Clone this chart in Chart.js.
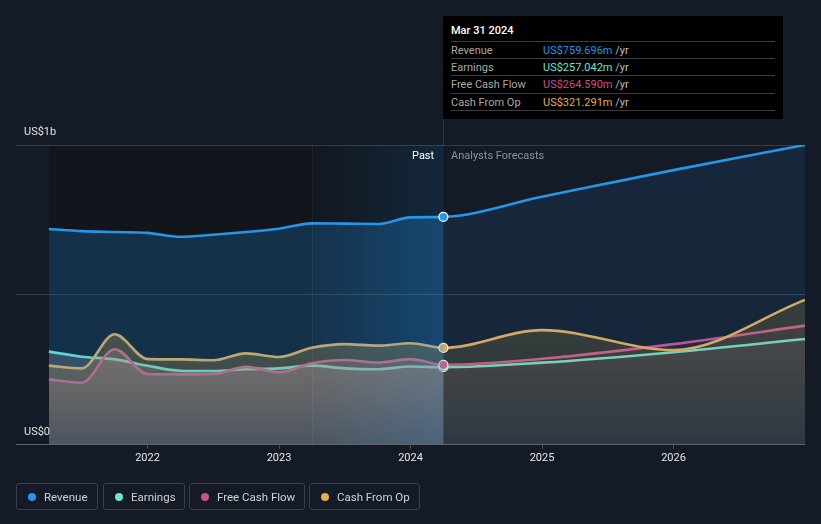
<!DOCTYPE html>
<html>
<head>
<meta charset="utf-8">
<script src="https://cdn.jsdelivr.net/npm/chart.js@4.4.1/dist/chart.umd.min.js"></script>
<style>
  html, body { margin:0; padding:0; background:#151b26; width:821px; height:524px; overflow:hidden; font-family: Roboto, "Noto Sans", Arial, sans-serif; }
  #wrap { position:absolute; left:0; top:0; width:821px; height:524px; }
  #chartBox { position:absolute; left:0; top:0; width:821px; height:524px; }
  .lbl { position:absolute; font-size:11px; line-height:14px; white-space:nowrap; }
  #tip { position:absolute; left:443px; top:16px; width:340px; height:103px; background:#000; }
  #tip .title { position:absolute; left:8px; top:8px; font-size:11px; line-height:14px; color:#fff; font-weight:500; }
  #tip .row { position:absolute; left:8px; width:324px; height:17px; border-top:1px solid #3c3c3c; font-size:11px; line-height:17px; }
  #tip .row .k { position:absolute; left:0; color:#a8a8a8; }
  #tip .row .v { position:absolute; left:92px; }
  #tip .row .u { color:#bdbdbd; }
  #tip .last { position:absolute; left:8px; width:324px; top:94px; border-top:1px solid #3c3c3c; }
  .leg { position:absolute; top:483px; height:27px; border:1px solid #3a3f4a; border-radius:3px; box-sizing:border-box; font-size:11.5px; line-height:26px; color:#d2d2d2; }
  .leg .dot { position:absolute; left:11px; top:9px; width:8px; height:8px; border-radius:50%; }
  .leg .t { position:absolute; left:27px; }
</style>
</head>
<body>
<div id="wrap">
  <div id="chartBox"><canvas id="c"></canvas></div>
  <div class="lbl" style="left:24px; top:125px; color:#e2e2e2;">US$1b</div>
  <div class="lbl" style="left:24px; top:425px; color:#e2e2e2;">US$0</div>
  <div class="lbl" style="left:412px; top:149px; color:#ffffff;">Past</div>
  <div class="lbl" style="left:451px; top:149px; color:#8e939b;">Analysts Forecasts</div>
  <div id="tip"></div>
  <div id="legend"></div>
</div>
<script>
// ---- data (US$ millions) ----
const pastDates     = [2021.25, 2021.5, 2021.75, 2022, 2022.25, 2022.5, 2022.75, 2023, 2023.25, 2023.5, 2023.75, 2024, 2024.25];
const forecastDates = [2025, 2026, 2027];

const revenuePast  = [719, 712, 709, 706, 693, 700, 709, 720, 738, 737, 736, 758, 759.696];
const revenueFc    = [827, 916, 1000];
const earningsPast = [309, 292, 283, 262, 245, 244, 250, 253, 262, 253, 250, 259, 257.042];
const earningsFc   = [272, 307, 351];
const fcfPast      = [216, 205, 317, 234, 233, 234, 258, 240, 270, 281, 272, 284, 264.590];
const fcfFc        = [285, 334, 396];
const cfoPast      = [262, 253, 367, 284, 283, 280, 303, 291, 322, 334, 329, 337, 321.291];
const cfoFc        = [381, 314, 482];

const yearTicks  = [2022, 2023, 2024, 2025, 2026];
const yTicks     = [0, 500, 1000];
const xMin = 2021, xMax = 2027;
const bandStart = 2023.25;          // start of highlighted "past" band
const pastEnd   = 2024.25;          // Mar 31 2024
const tipTitle  = 'Mar 31 2024';

const seriesNames = ['Revenue', 'Earnings', 'Free Cash Flow', 'Cash From Op'];
const seriesColors = ['#2596e8', '#6ce5d0', '#cc4f8c', '#e8ab55'];
const tipValues = ['US$759.696m', 'US$257.042m', 'US$264.590m', 'US$321.291m'];

function toPoints(d1, v1, d2, v2) {
  return d1.map((x, i) => ({x, y: v1[i]})).concat(d2.map((x, i) => ({x, y: v2[i]})));
}

// ---- tooltip box & legend (HTML text) ----
(function buildHtml() {
  const tip = document.getElementById('tip');
  let html = '<div class="title">' + tipTitle + '</div>';
  const tops = [25, 42, 59, 77];
  seriesNames.forEach((n, i) => {
    html += '<div class="row" style="top:' + tops[i] + 'px"><span class="k">' + n + '</span>' +
      '<span class="v"><span style="color:' + seriesColors[i] + '">' + tipValues[i] + '</span><span class="u"> /yr</span></span></div>';
  });
  html += '<div class="last"></div>';
  tip.innerHTML = html;
  const leg = document.getElementById('legend');
  const lefts = [16, 103, 189, 309], widths = [82, 82, 116, 111];
  let lh = '';
  seriesNames.forEach((n, i) => {
    lh += '<div class="leg" style="left:' + lefts[i] + 'px;width:' + widths[i] + 'px"><span class="dot" style="background:' + seriesColors[i] + '"></span><span class="t">' + n + '</span></div>';
  });
  leg.innerHTML = lh;
})();

// ---- fills built as patterns (horizontal past/forecast split + vertical fade) ----
const fillCache = {};
function makeFill(chart, key, rgb, aPast, aBand, aFc, fade) {
  const area = chart.chartArea;
  if (!area || !chart.scales.x) return 'rgba(0,0,0,0)';
  const ck = key + ':' + chart.width + 'x' + chart.height + ':' + area.left + ',' + area.top;
  if (fillCache[ck]) return fillCache[ck];
  const w = chart.width, h = chart.height;
  const cv = document.createElement('canvas'); cv.width = w; cv.height = h;
  const g = cv.getContext('2d');
  const xs = chart.scales.x, ys = chart.scales.y;
  const xb = xs.getPixelForValue(bandStart), xe = xs.getPixelForValue(pastEnd);
  const col = a => 'rgba(' + rgb + ',' + a + ')';
  g.fillStyle = col(aPast); g.fillRect(0, 0, xb, h);
  const lg = g.createLinearGradient(xb, 0, xe, 0);
  lg.addColorStop(0, col(aPast)); lg.addColorStop(1, col(aBand));
  g.fillStyle = lg; g.fillRect(xb, 0, xe - xb, h);
  g.fillStyle = col(aFc); g.fillRect(xe, 0, w - xe, h);
  if (fade) {
    g.globalCompositeOperation = 'destination-in';
    const vg = g.createLinearGradient(0, ys.getPixelForValue(380), 0, ys.getPixelForValue(0));
    vg.addColorStop(0, 'rgba(0,0,0,1)'); vg.addColorStop(1, 'rgba(0,0,0,' + fade + ')');
    g.fillStyle = vg; g.fillRect(0, 0, w, h);
  }
  const p = chart.ctx.createPattern(cv, 'no-repeat');
  fillCache[ck] = p;
  return p;
}

const bgPlugin = {
  id: 'bgPlugin',
  beforeDraw(chart) {
    const {ctx, chartArea: a, scales: {x}} = chart;
    ctx.save();
    ctx.fillStyle = '#151b26';
    ctx.fillRect(0, 0, chart.width, chart.height);
    const x0 = x.getPixelForValue(pastDates[0]);
    const xb = x.getPixelForValue(bandStart);
    const xe = x.getPixelForValue(pastEnd);
    ctx.fillStyle = '#12151c';
    ctx.fillRect(x0, a.top, xb - x0, a.bottom - a.top);
    const lg = ctx.createLinearGradient(xb, 0, xe, 0);
    lg.addColorStop(0, '#12171f'); lg.addColorStop(1, '#12283c');
    ctx.fillStyle = lg;
    ctx.fillRect(xb, a.top, xe - xb, a.bottom - a.top);
    ctx.restore();
  },
  afterDatasetsDraw(chart) {
    const {ctx, chartArea: a, scales: {x}} = chart;
    const xb = x.getPixelForValue(bandStart);
    ctx.save();
    ctx.strokeStyle = 'rgba(255,255,255,0.06)';
    ctx.lineWidth = 1;
    ctx.beginPath(); ctx.moveTo(Math.round(xb) + 0.5, a.top); ctx.lineTo(Math.round(xb) + 0.5, a.bottom); ctx.stroke();
    ctx.restore();
  },
  afterDraw(chart) {
    const {ctx, chartArea: a, scales: {x}} = chart;
    const xe = x.getPixelForValue(pastEnd);
    ctx.save();
    ctx.strokeStyle = 'rgba(255,255,255,0.13)';
    ctx.lineWidth = 1;
    ctx.beginPath(); ctx.moveTo(Math.round(xe) + 0.5, 119); ctx.lineTo(Math.round(xe) + 0.5, a.top); ctx.stroke();
    ctx.restore();
  }
};

function pr(ctx) { return ctx.raw && ctx.raw.x === pastEnd ? 4.5 : 0; }

const common = {
  borderWidth: 2.6,
  cubicInterpolationMode: 'monotone',
  fill: 'origin',
  pointRadius: pr,
  pointHoverRadius: 0,
  pointBorderColor: '#ffffff',
  pointBorderWidth: 1.2
};

new Chart(document.getElementById('c'), {
  type: 'line',
  data: {
    datasets: [
      Object.assign({}, common, {
        label: seriesNames[0], order: 0,
        data: toPoints(pastDates, revenuePast, forecastDates, revenueFc),
        borderColor: seriesColors[0], pointBackgroundColor: seriesColors[0],
        backgroundColor: c => makeFill(c.chart, 'rev', '33,150,243', 0.21, 0.28, 0.10, 0)
      }),
      Object.assign({}, common, {
        label: seriesNames[1], order: 3,
        data: toPoints(pastDates, earningsPast, forecastDates, earningsFc),
        borderColor: seriesColors[1], pointBackgroundColor: seriesColors[1],
        backgroundColor: c => makeFill(c.chart, 'ear', '215,200,190', 0.25, 0.25, 0.08, 0.45)
      }),
      Object.assign({}, common, {
        label: seriesNames[2], order: 2,
        data: toPoints(pastDates, fcfPast, forecastDates, fcfFc),
        borderColor: seriesColors[2], pointBackgroundColor: seriesColors[2],
        backgroundColor: c => makeFill(c.chart, 'fcf', '220,120,140', 0.3, 0.3, 0.06, 0.45)
      }),
      Object.assign({}, common, {
        label: seriesNames[3], order: 1,
        data: toPoints(pastDates, cfoPast, forecastDates, cfoFc),
        borderColor: seriesColors[3], pointBackgroundColor: seriesColors[3],
        backgroundColor: c => makeFill(c.chart, 'cfo', '232,165,40', 0.3, 0.3, 0.17, 0.45)
      })
    ]
  },
  options: {
    responsive: true,
    maintainAspectRatio: false,
    animation: false,
    events: [],
    layout: { padding: { left: 16, right: 16, top: 145, bottom: 0 } },
    plugins: { legend: { display: false }, tooltip: { enabled: false } },
    scales: {
      x: {
        type: 'linear', min: xMin, max: xMax,
        afterBuildTicks: s => { s.ticks = yearTicks.map(v => ({value: v})); },
        afterFit: s => { s.height = 80; },
        ticks: { color: '#e6e6e6', font: { family: 'Roboto', size: 11 }, padding: 3, maxRotation: 0, autoSkip: false, callback: v => String(v) },
        grid: { drawOnChartArea: false, drawTicks: true, tickLength: 5, tickColor: 'rgba(255,255,255,0.22)' },
        border: { display: true, color: 'rgba(255,255,255,0.2)' }
      },
      y: {
        min: 0, max: 1000,
        afterBuildTicks: s => { s.ticks = yTicks.map(v => ({value: v})); },
        afterFit: s => { s.width = 0; },
        ticks: { display: false },
        grid: { color: 'rgba(255,255,255,0.15)', drawTicks: false },
        border: { display: false }
      }
    }
  },
  plugins: [bgPlugin]
});
</script>
</body>
</html>
